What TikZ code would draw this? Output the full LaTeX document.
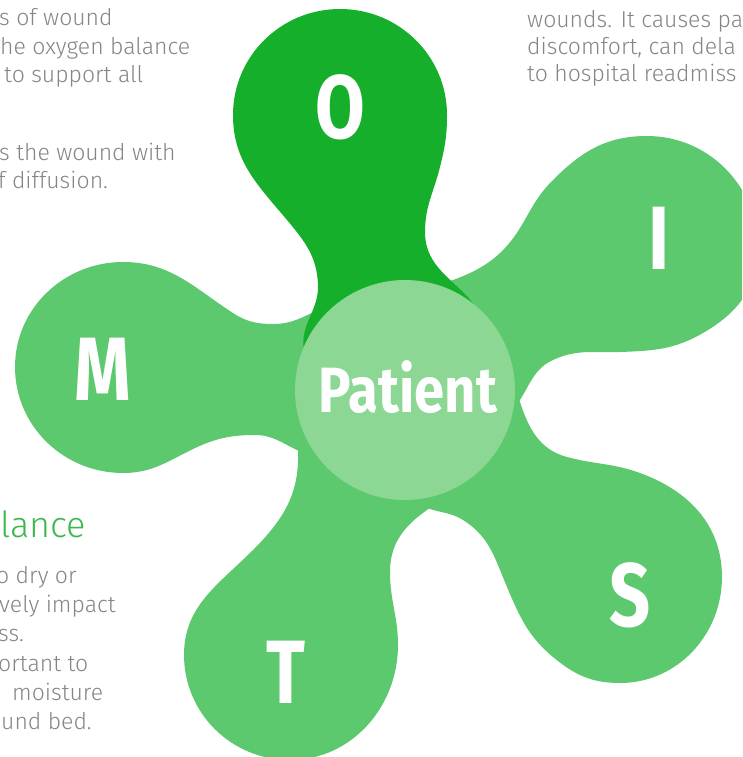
\documentclass[tikz,border=0pt]{standalone}
\usepackage{fontspec}
\usepackage{graphicx}
\setmainfont{Fira Sans}
\IfFontExistsTF{Fira Sans Light}{\newfontfamily\bodyfont{Fira Sans Light}}{\newfontfamily\bodyfont{Fira Sans}}
\usetikzlibrary{positioning}

\definecolor{darkleaf}{HTML}{16AF2C}
\definecolor{leaf}{HTML}{5DC96E}
\definecolor{paleleaf}{HTML}{8BD793}
\definecolor{headgreen}{HTML}{3DB94C}
\definecolor{bodygray}{HTML}{858585}

\newcommand{\lobeletter}[1]{\scalebox{0.8}[1]{\bfseries\fontsize{90}{90}\selectfont #1}}

\begin{document}
\begin{tikzpicture}[x=1pt,y=1pt]
  \tikzstyle{lobe}=[fill=leaf]
  \tikzstyle{letter}=[text=white,inner sep=0pt]
  \tikzstyle{body}=[anchor=base west,inner sep=0pt,text=bodygray,font=\bodyfont\fontsize{23}{28}\selectfont]
  \useasboundingbox (0,0) rectangle (742,-757);
  \clip (0,0) rectangle (742,-757);

  % Lobes
  \fill[lobe] (123,-262) to[out=0,in=147] (233,-313) to[out=-33,in=180] (273,-324)
    to[out=0,in=205] (318,-310) -- (345,-300) -- (400,-400) -- (340,-470) -- (297,-450)
    to[out=155,in=0] (255,-435) to[out=180,in=27] (187,-452) to[out=207,in=0] (123,-473)
    to[out=180,in=270] (15,-367) to[out=90,in=180] (123,-262) -- cycle;
  \fill[lobe] (647,-136) to[out=180,in=45] (553,-180) to[out=225,in=60] (523,-223)
    to[out=240,in=20] (453,-280) -- (415,-290) -- (420,-410) -- (500,-432) -- (520,-400)
    to[out=58,in=205] (553,-360) to[out=25,in=182] (620,-352) to[out=2,in=210] (703,-333)
    to[out=30,in=270] (758,-248) to[out=90,in=0] (647,-136) -- cycle;
  \fill[lobe] (505,-360) -- (520,-402) to[out=-72,in=165] (567,-457) to[out=-15,in=160] (640,-473)
    to[out=-20,in=90] (722,-577) to[out=-90,in=0] (620,-683) to[out=180,in=-40] (553,-657)
    to[out=140,in=-67] (507,-587) to[out=113,in=-32] (463,-520) to[out=148,in=-20] (427,-508)
    -- (400,-490) -- (430,-400) -- cycle;
  \fill[lobe] (300,-410) -- (298,-452) to[out=-88,in=45] (253,-550) to[out=225,in=90] (184,-655)
    to[out=-90,in=180] (290,-760) to[out=0,in=-90] (398,-645) to[out=90,in=-90] (390,-572)
    to[out=90,in=215] (427,-510) -- (455,-490) -- (400,-400) -- cycle;
  \fill[darkleaf] (340,-9) to[out=180,in=90] (233,-115) to[out=-90,in=130] (287,-220)
    to[out=-50,in=92] (318,-285) to[out=-88,in=100] (304,-350) -- (400,-420) -- (485,-318)
    -- (467,-296) to[out=135,in=-90] (425,-232) to[out=90,in=-104] (440,-167)
    to[out=76,in=-90] (447,-115) to[out=90,in=0] (340,-9) -- cycle;

  % Centre
  \node[circle,fill=paleleaf,minimum size=220pt,inner sep=0pt] (patient) at (405,-390) {};
  \node[letter] (patientlabel) at (408,-387)
    {\scalebox{0.85}[1]{\bfseries\fontsize{64}{64}\selectfont Patient}};

  % Letters
  \node[letter] (o) at (340,-107) {\lobeletter{O}};
  \node[letter] (i) at (659,-238) {\lobeletter{I}};
  \node[letter] (m) at (103,-369) {\lobeletter{M}};
  \node[letter] (s) at (630,-595) {\lobeletter{S}};
  \node[letter] (t) at (286,-672) {\lobeletter{T}};

  % Text around
  \node[body] (oxygen1) at (-1,-26) {s of wound};
  \node[body] (oxygen2) at (0,-55) {he oxygen balance};
  \node[body] (oxygen3) at (4,-83) {to support all};
  \node[body] (oxygen4) at (-1,-160) {s the wound with};
  \node[body] (oxygen5) at (-2,-188) {f diffusion.};

  \node[body] (infection1) at (527,-28) {wounds. It causes pa};
  \node[body] (infection2) at (527,-55) {discomfort, can dela};
  \node[body] (infection3) at (527,-82) {to hospital readmiss};

  \node[body,text=headgreen,font=\bodyfont\fontsize{36}{40}\selectfont] (moisturehead) at (0,-537) {lance};
  \node[body] (moisture1) at (-4,-583) {o dry or};
  \node[body] (moisture2) at (-1,-612) {vely impact};
  \node[body] (moisture3) at (-2,-641) {ss.};
  \node[body] (moisture4) at (-2,-671) {ortant to};
  \node[body] (moisture5) at (12,-700) {moisture};
  \node[body] (moisture6) at (1,-729) {und bed.};
\end{tikzpicture}
\end{document}
